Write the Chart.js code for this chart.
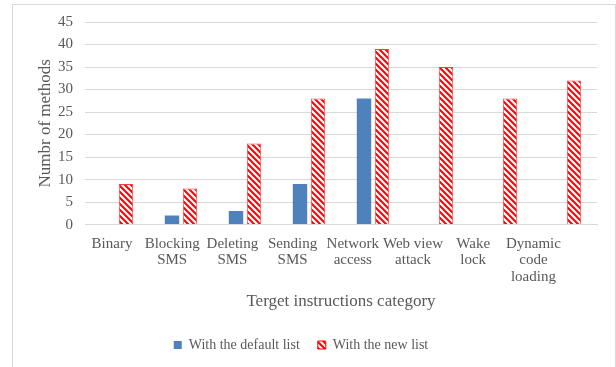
<!DOCTYPE html>
<html>
<head>
<meta charset="utf-8">
<script src="https://cdn.jsdelivr.net/npm/chart.js@4/dist/chart.umd.min.js"></script>
<style>
  html, body { margin: 0; padding: 0; background: #fff; }
  #wrap { position: relative; width: 616px; height: 367px; overflow: hidden; }
  #frame { position: absolute; left: 12px; top: 4px; width: 604px; height: 380px; border: 1px solid #d9d9d9; box-sizing: border-box; }
</style>
</head>
<body>
<div id="wrap">
  <div id="frame"></div>
  <canvas id="chart" width="616" height="367"></canvas>
</div>
<script>
const categories = [
  'Binary', ['Blocking', 'SMS'], ['Deleting', 'SMS'], ['Sending', 'SMS'],
  ['Network', 'access'], ['Web view', 'attack'], ['Wake', 'lock'], ['Dynamic', 'code', 'loading']
];
const defaultList = [0, 2, 3, 9, 28, 0, 0, 0];
const newList = [9, 8, 18, 28, 39, 35, 28, 32];
const yTicks = [0, 5, 10, 15, 20, 25, 30, 35, 40, 45];

const serif = "'Liberation Serif', 'Times New Roman', serif";
const textColor = '#595959';

function hatch() {
  const c = document.createElement('canvas');
  c.width = 6; c.height = 6;
  const g = c.getContext('2d');
  g.fillStyle = '#fff';
  g.fillRect(0, 0, 6, 6);
  g.strokeStyle = '#ff0000';
  g.lineWidth = 2;
  g.beginPath();
  g.moveTo(-1, -1); g.lineTo(7, 7);
  g.moveTo(-4, 2); g.lineTo(2, 8);
  g.moveTo(2, -4); g.lineTo(8, 2);
  g.stroke();
  return g.createPattern(c, 'repeat');
}
const redHatch = hatch();

// Category labels are drawn a little to the left of the bars, as in the source figure
const xLabels = {
  id: 'xLabels',
  afterDraw(chart) {
    const ctx = chart.ctx;
    const x = chart.scales.x;
    ctx.save();
    ctx.font = '15px ' + serif;
    ctx.fillStyle = textColor;
    ctx.textAlign = 'center';
    ctx.textBaseline = 'middle';
    categories.forEach((lab, i) => {
      const lines = Array.isArray(lab) ? lab : [lab];
      const cx = x.getPixelForValue(i) - 5 - i * 3.8;
      lines.forEach((t, j) => ctx.fillText(t, cx, x.top + 19 + j * 16.5));
    });
    ctx.restore();
  }
};

new Chart(document.getElementById('chart'), {
  type: 'bar',
  data: {
    labels: categories,
    datasets: [
      {
        label: 'With the default list',
        data: defaultList,
        backgroundColor: '#4f81bd',
        borderWidth: 0,
        barPercentage: 0.8,
        categoryPercentage: 0.5625
      },
      {
        label: 'With the new list',
        data: newList,
        backgroundColor: redHatch,
        borderColor: '#ff3b3b',
        borderWidth: 1,
        barPercentage: 0.8,
        categoryPercentage: 0.5625
      }
    ]
  },
  options: {
    responsive: false,
    animation: false,
    layout: { padding: { left: 5, right: 19, top: 22, bottom: 5 } },
    plugins: {
      tooltip: { enabled: false },
      legend: {
        position: 'bottom',
        labels: {
          boxWidth: 8,
          boxHeight: 8,
          padding: 18,
          color: textColor,
          font: { family: serif, size: 14 },
          generateLabels(chart) {
            return chart.data.datasets.map((d, i) => ({
              text: d.label,
              fillStyle: i === 0 ? '#4f81bd' : redHatch,
              strokeStyle: i === 0 ? '#4f81bd' : '#ff0000',
              lineWidth: i === 0 ? 0 : 1,
              fontColor: textColor,
              datasetIndex: i
            }));
          }
        }
      }
    },
    scales: {
      x: {
        grid: { display: false },
        border: { color: '#d9d9d9' },
        ticks: {
          color: 'rgba(0,0,0,0)',
          font: { family: serif, size: 15, lineHeight: 1.0 },
          maxRotation: 0,
          padding: 2
        },
        title: {
          display: true,
          text: 'Terget instructions category',
          color: textColor,
          font: { family: serif, size: 17 },
          padding: { top: 10, bottom: 8 }
        }
      },
      y: {
        min: 0,
        max: 45,
        afterBuildTicks(axis) { axis.ticks = yTicks.map(v => ({ value: v })); },
        afterFit(axis) { axis.width = 80; },
        grid: { color: '#d9d9d9', drawTicks: false },
        border: { display: false },
        ticks: {
          color: textColor,
          font: { family: serif, size: 15 },
          padding: 12
        },
        title: {
          display: true,
          text: 'Numbr of methods',
          color: textColor,
          font: { family: serif, size: 17 },
          padding: { top: 30, bottom: 0 }
        }
      }
    }
  },
  plugins: [xLabels]
});
</script>
</body>
</html>
